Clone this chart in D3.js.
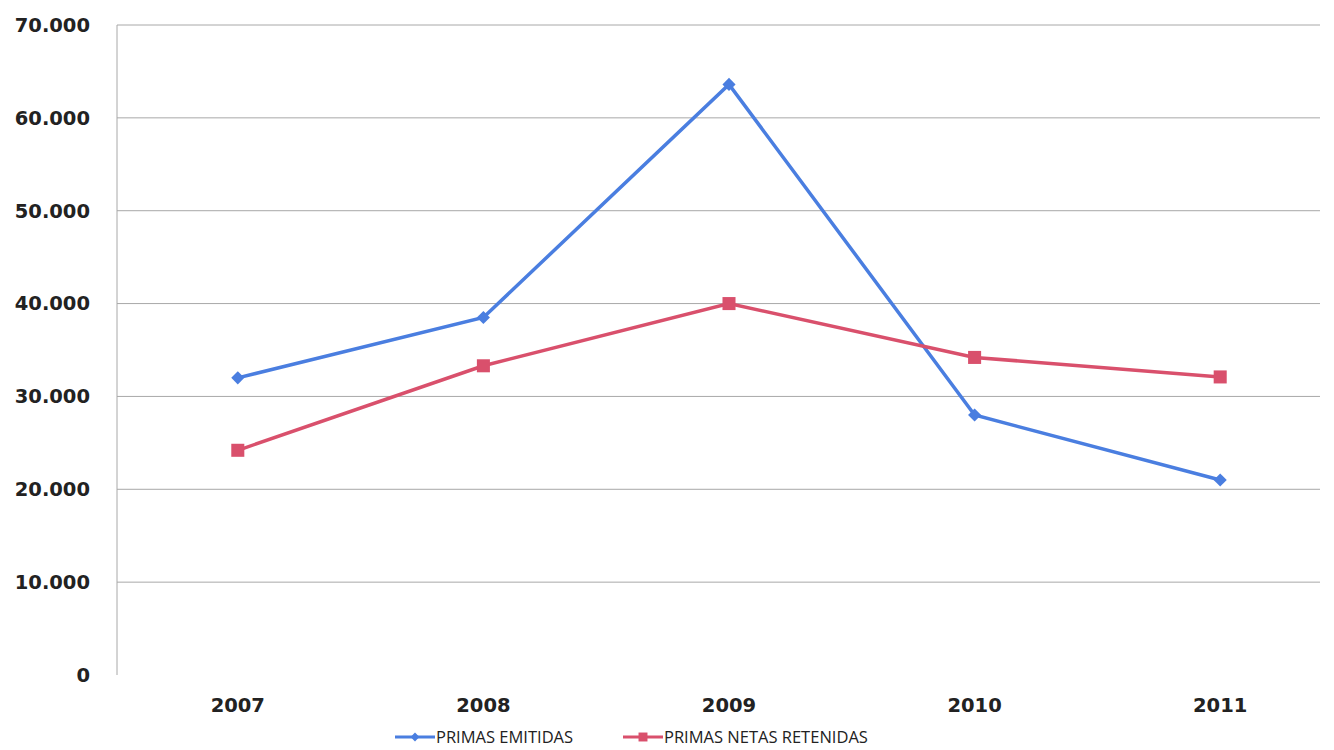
<!DOCTYPE html>
<html>
<head>
<meta charset="utf-8">
<script src="https://cdn.jsdelivr.net/npm/d3@7"></script>
<style>
  body { margin: 0; background: #fff; }
  svg { display: block; }
  .tick-label { font-family: "DejaVu Sans", sans-serif; font-weight: bold; fill: #222; }
  .legend-label { font-family: "Open Sans", sans-serif; fill: #222; }
</style>
</head>
<body>
<div id="chart"></div>
<script>
// Data
const years = ["2007", "2008", "2009", "2010", "2011"];
const primasEmitidas = [32000, 38500, 63600, 28000, 21000];
const primasNetasRetenidas = [24200, 33300, 40000, 34200, 32100];
const yTicks = [0, 10000, 20000, 30000, 40000, 50000, 60000, 70000];

const width = 1334;
const height = 750;

const svg = d3.select("#chart")
  .append("svg")
  .attr("width", width)
  .attr("height", height);

const x = d3.scaleBand().domain(years).range([115, 1343]);
const y = d3.scaleLinear().domain([0, 70000]).range([675, 25]);

const locale = d3.formatLocale({ decimal: ",", thousands: ".", grouping: [3], currency: ["", ""] });
const fmt = locale.format(",d");

// Gridlines
svg.append("g")
  .selectAll("line")
  .data(yTicks.filter((d) => d > 0))
  .enter()
  .append("line")
  .attr("x1", 117)
  .attr("x2", 1320)
  .attr("y1", (d) => y(d))
  .attr("y2", (d) => y(d))
  .attr("stroke", "#a8a8a8")
  .attr("stroke-width", 1);

// Y axis line
svg.append("line")
  .attr("x1", 117).attr("x2", 117)
  .attr("y1", y(70000)).attr("y2", y(0))
  .attr("stroke", "#a8a8a8");

// Y tick labels
svg.append("g")
  .selectAll("text")
  .data(yTicks)
  .enter()
  .append("text")
  .attr("class", "tick-label")
  .attr("x", 90)
  .attr("y", (d) => y(d))
  .attr("dy", "0.35em")
  .attr("text-anchor", "end")
  .style("font-size", "19.5px")
  .text((d) => fmt(d));

// X tick labels
svg.append("g")
  .selectAll("text")
  .data(years)
  .enter()
  .append("text")
  .attr("class", "tick-label")
  .attr("x", (d) => x(d) + x.bandwidth() / 2)
  .attr("y", 705)
  .attr("dy", "0.35em")
  .attr("text-anchor", "middle")
  .style("font-size", "19.5px")
  .text((d) => d);

const series = [
  { name: "PRIMAS EMITIDAS", values: primasEmitidas, color: "#4a7ee0", marker: "diamond" },
  { name: "PRIMAS NETAS RETENIDAS", values: primasNetasRetenidas, color: "#d9506c", marker: "square" },
];

const line = d3.line()
  .x((d, i) => x(years[i]) + x.bandwidth() / 2)
  .y((d) => y(d));

series.forEach((s) => {
  svg.append("path")
    .datum(s.values)
    .attr("d", line)
    .attr("fill", "none")
    .attr("stroke", s.color)
    .attr("stroke-width", 3.5);

  const sym = s.marker === "diamond"
    ? d3.symbol().type(d3.symbolDiamond2).size(110)
    : d3.symbol().type(d3.symbolSquare).size(170);

  svg.append("g")
    .selectAll("path")
    .data(s.values)
    .enter()
    .append("path")
    .attr("d", sym)
    .attr("transform", (d, i) => `translate(${x(years[i]) + x.bandwidth() / 2},${y(d)})`)
    .attr("fill", s.color);
});

// Legend
const legendItems = [
  { x: 395, color: series[0].color, marker: "diamond", name: series[0].name },
  { x: 623, color: series[1].color, marker: "square", name: series[1].name },
];

legendItems.forEach((item) => {
  const g = svg.append("g").attr("transform", `translate(${item.x},737)`);
  g.append("line")
    .attr("x1", 0).attr("x2", 40)
    .attr("stroke", item.color)
    .attr("stroke-width", 3);
  g.append("path")
    .attr("d", item.marker === "diamond"
      ? d3.symbol().type(d3.symbolDiamond2).size(50)()
      : d3.symbol().type(d3.symbolSquare).size(80)())
    .attr("transform", "translate(20,0)")
    .attr("fill", item.color);
  g.append("text")
    .attr("class", "legend-label")
    .attr("x", 41)
    .attr("dy", "0.35em")
    .style("font-size", "16.5px")
    .text(item.name);
});
</script>
</body>
</html>
